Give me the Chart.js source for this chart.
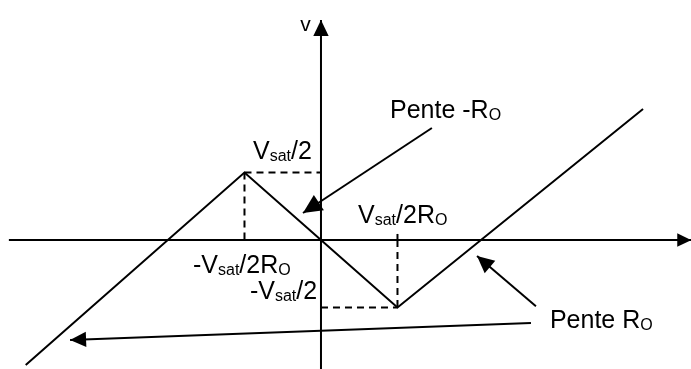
<!DOCTYPE html>
<html lang="fr">
<head>
    <meta charset="UTF-8">
    <title>Caractéristique v(i)</title>
    <script src="https://cdn.jsdelivr.net/npm/chart.js"></script>
    <style>
        html, body { margin: 0; padding: 0; background: #fff; }
        #wrap { width: 691px; height: 369px; }
    </style>
</head>
<body>
    <div id="wrap"><canvas id="graph" width="691" height="369"></canvas></div>

    <script>
        // unités : x en Vsat/2Ro, y en Vsat/2
        const courbeX = [-3.86, -1, 0, 1, 4.21];
        const courbeY = [-1.85, 1, 0, -1, 1.94];

        const axeHX = [-4.08, 4.84];
        const axeHY = [0, 0];
        const axeVX = [0, 0];
        const axeVY = [-1.95, 3.26];

        // pointillés
        const tiretsHautX = [-1, 0];
        const tiretsHautY = [1, 1];
        const tiretsGaucheX = [-1, -1];
        const tiretsGaucheY = [1, 0];
        const tiretsBasX = [0, 1];
        const tiretsBasY = [-1, -1];
        const tiretsDroiteX = [1, 1];
        const tiretsDroiteY = [0, -1];
        const repereX = [1, 1];
        const repereY = [0, 0.09];

        // flèches d'annotation (départ -> pointe)
        const flecheMoinsRoX = [1.45, -0.235];
        const flecheMoinsRoY = [1.66, 0.40];
        const flecheRoX = [2.81, 2.04];
        const flecheRoY = [-0.98, -0.237];
        const flecheBasX = [2.745, -3.28];
        const flecheBasY = [-1.23, -1.48];

        function pts(xs, ys) {
            return xs.map((x, i) => ({ x: x, y: ys[i] }));
        }

        // textes avec indices (alignés à gauche sauf "droite")
        const etiquettes = [
            { x: -0.27, y: 3.1, taille: 21, parts: [["v"]] },
            { x: -0.889, y: 1.2, parts: [["V"], ["sat", 1], ["/2"]] },
            { x: 0.902, y: 1.807, parts: [["Pente -R"], ["O", 1]] },
            { x: 0.484, y: 0.252, parts: [["V"], ["sat", 1], ["/2R"], ["O", 1]] },
            { x: -1.673, y: -0.489, parts: [["-V"], ["sat", 1], ["/2R"], ["O", 1]] },
            { x: -0.05, y: -0.87, droite: true, parts: [["-V"], ["sat", 1], ["/2"]] },
            { x: 2.993, y: -1.304, parts: [["Pente R"], ["O", 1]] }
        ];

        const trait = (data, opts) => Object.assign({
            data: data,
            showLine: true,
            borderColor: "#000",
            borderWidth: 2,
            pointRadius: 0,
            fill: false,
            tension: 0
        }, opts || {});

        const flechesPlugin = {
            id: "fleches",
            afterDatasetsDraw(chart) {
                const ctx = chart.ctx;
                chart.data.datasets.forEach((ds, i) => {
                    if (!ds.pointe) return;
                    const pts = chart.getDatasetMeta(i).data;
                    const a = pts[pts.length - 2], b = pts[pts.length - 1];
                    const ang = Math.atan2(b.y - a.y, b.x - a.x);
                    const L = ds.pointe, W = L * 0.48;
                    ctx.save();
                    ctx.fillStyle = "#000";
                    ctx.beginPath();
                    ctx.moveTo(b.x, b.y);
                    ctx.lineTo(b.x - L * Math.cos(ang) + W * Math.sin(ang), b.y - L * Math.sin(ang) - W * Math.cos(ang));
                    ctx.lineTo(b.x - L * Math.cos(ang) - W * Math.sin(ang), b.y - L * Math.sin(ang) + W * Math.cos(ang));
                    ctx.closePath();
                    ctx.fill();
                    ctx.restore();
                });
            }
        };

        function police(sub, taille) {
            return (sub ? 16 : (taille || 25)) + "px 'Liberation Sans', Arial, sans-serif";
        }

        const textesPlugin = {
            id: "textes",
            afterDraw(chart) {
                const ctx = chart.ctx;
                const sx = chart.scales.x, sy = chart.scales.y;
                ctx.save();
                ctx.fillStyle = "#000";
                ctx.textBaseline = "alphabetic";
                etiquettes.forEach(e => {
                    let px = sx.getPixelForValue(e.x);
                    const py = sy.getPixelForValue(e.y);
                    if (e.droite) {
                        let w = 0;
                        e.parts.forEach(p => { ctx.font = police(p[1], e.taille); w += ctx.measureText(p[0]).width; });
                        px -= w;
                    }
                    e.parts.forEach(p => {
                        const sub = p[1];
                        ctx.font = police(sub, e.taille);
                        ctx.fillText(p[0], px, py + (sub ? 2 : 0));
                        px += ctx.measureText(p[0]).width;
                    });
                });
                ctx.restore();
            }
        };

        const tirets = { borderDash: [7, 5] };

        new Chart(document.getElementById("graph"), {
            type: "scatter",
            data: {
                datasets: [
                    trait(pts(axeHX, axeHY), { pointe: 14 }),
                    trait(pts(axeVX, axeVY), { pointe: 16 }),
                    trait(pts(courbeX, courbeY)),
                    trait(pts(tiretsHautX, tiretsHautY), tirets),
                    trait(pts(tiretsGaucheX, tiretsGaucheY), tirets),
                    trait(pts(tiretsBasX, tiretsBasY), tirets),
                    trait(pts(tiretsDroiteX, tiretsDroiteY), tirets),
                    trait(pts(repereX, repereY)),
                    trait(pts(flecheMoinsRoX, flecheMoinsRoY), { pointe: 19 }),
                    trait(pts(flecheRoX, flecheRoY), { pointe: 17 }),
                    trait(pts(flecheBasX, flecheBasY), { pointe: 16 })
                ]
            },
            options: {
                responsive: false,
                animation: false,
                devicePixelRatio: 1,
                layout: { padding: 0 },
                plugins: {
                    legend: { display: false },
                    tooltip: { enabled: false }
                },
                scales: {
                    x: { type: "linear", min: -4.196, max: 4.837, bounds: "data", display: false },
                    y: { type: "linear", min: -1.911, max: 3.556, bounds: "data", display: false }
                }
            },
            plugins: [flechesPlugin, textesPlugin]
        });
    </script>
</body>
</html>
